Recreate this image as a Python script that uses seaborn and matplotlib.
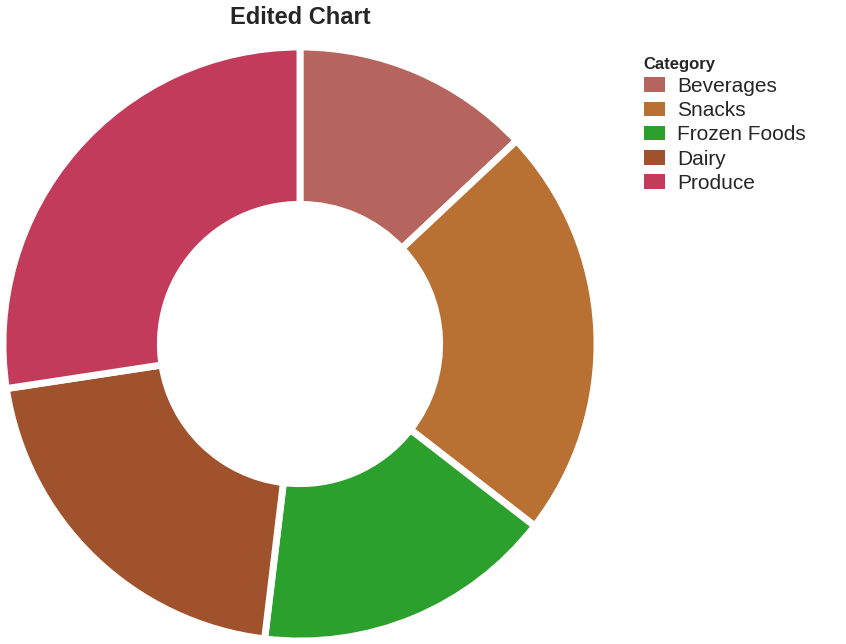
import seaborn as sns
import matplotlib.pyplot as plt

categories = ['Beverages', 'Snacks', 'Frozen Foods', 'Dairy', 'Produce']
values = [13.0, 22.5, 16.4, 20.7, 27.4]
colors = ['#b5645e', '#b87033', '#2ca02c', '#a0522d', '#c23b5a']

sns.set_theme(style='white')
plt.rcParams['font.family'] = ['Liberation Sans', 'DejaVu Sans']

fig = plt.figure(figsize=(8.46, 6.44), dpi=100)
ax = fig.add_axes([0.0, 0.0, 600 / 846, 600 / 644])
wedges, _ = ax.pie(values, colors=colors, startangle=90, counterclock=False,
                   radius=1.0, wedgeprops=dict(width=0.53, edgecolor='white', linewidth=5))
ax.set_aspect('equal')
ax.set_xlim(-1.01, 1.01)
ax.set_ylim(-1.01, 1.01)

fig.text(300 / 846, 1 - 17 / 644, 'Edited Chart', ha='center', va='center',
         fontsize=17, fontweight='bold')

leg = fig.legend(wedges, categories, title='Category', loc='upper left',
                 bbox_to_anchor=(625 / 846, 1 - 38 / 644), frameon=False,
                 fontsize=15, title_fontproperties={'weight': 'bold', 'size': 12},
                 handlelength=1.0, handletextpad=0.6, labelspacing=0.25)
leg._legend_box.align = 'left'
for h in leg.legend_handles:
    h.set_linewidth(0)

fig.savefig('out.png', dpi=100)
